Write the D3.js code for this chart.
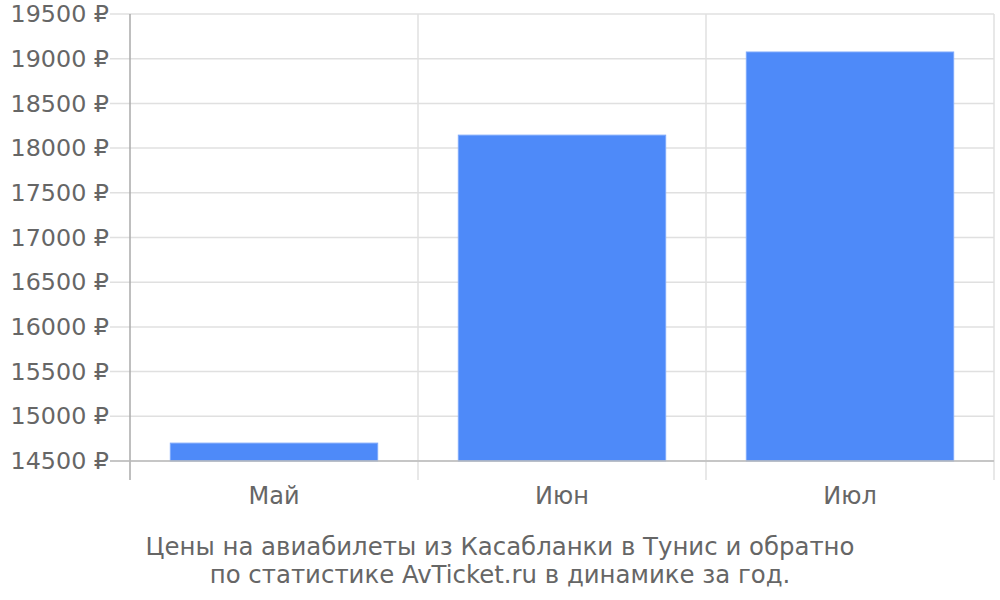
<!DOCTYPE html>
<html>
<head>
<meta charset="utf-8">
<script src="https://cdn.jsdelivr.net/npm/d3@7"></script>
<style>
  body { margin: 0; background: #fff; }
  text { font-family: "DejaVu Sans", sans-serif; fill: #666; }
</style>
</head>
<body>
<div id="chart-area"></div>
<script>
// chart data
const months = ["Май", "Июн", "Июл"];
const prices = [14700, 18145, 19075];
const yTicks = [14500, 15000, 15500, 16000, 16500, 17000, 17500, 18000, 18500, 19000, 19500];
const caption = ["Цены на авиабилеты из Касабланки в Тунис и обратно", "по статистике AvTicket.ru в динамике за год."];

const MARGIN = { LEFT: 130, RIGHT: 6, TOP: 14, BOTTOM: 139 };
const WIDTH = 1000 - MARGIN.LEFT - MARGIN.RIGHT;
const HEIGHT = 600 - MARGIN.TOP - MARGIN.BOTTOM;

const svg = d3.select("#chart-area").append("svg")
  .attr("width", 1000)
  .attr("height", 600)

const g = svg.append("g")
  .attr("transform", `translate(${MARGIN.LEFT}, ${MARGIN.TOP})`)

const x = d3.scaleBand()
  .domain(months)
  .range([0, WIDTH])
  .paddingInner(0.28)
  .paddingOuter(0.14)

const y = d3.scaleLinear()
  .domain([14500, 19500])
  .range([HEIGHT, 0])

// horizontal grid + tick stubs
g.append("g")
  .selectAll("line")
  .data(yTicks)
  .enter().append("line")
    .attr("x1", -20)
    .attr("x2", WIDTH)
    .attr("y1", d => y(d))
    .attr("y2", d => y(d))
    .attr("stroke", "#e0e0e0")
    .attr("stroke-width", 1.5)

// vertical grid lines at band edges
const edges = months.map(m => x(m) - x.step() * x.paddingOuter()).concat([WIDTH]);
g.append("g")
  .selectAll("line")
  .data(edges)
  .enter().append("line")
    .attr("x1", d => d)
    .attr("x2", d => d)
    .attr("y1", 0)
    .attr("y2", HEIGHT + 19)
    .attr("stroke", (d, i) => i === 0 ? "#aaa" : "#e0e0e0")
    .attr("stroke-width", 1.5)

// bars
g.selectAll("rect").data(prices)
  .enter().append("rect")
    .attr("x", (d, i) => x(months[i]))
    .attr("y", d => y(d))
    .attr("width", x.bandwidth())
    .attr("height", d => HEIGHT - y(d))
    .attr("fill", "#4e8af9")
    .attr("stroke", "#7ea9fb")
    .attr("stroke-width", 1)

// baseline
g.append("line")
  .attr("x1", -20)
  .attr("x2", WIDTH)
  .attr("y1", HEIGHT)
  .attr("y2", HEIGHT)
  .attr("stroke", "#bbb")
  .attr("stroke-width", 1.5)

const leftAxis = d3.axisLeft(y)
  .tickValues(yTicks)
  .tickSize(0)
  .tickPadding(21)
  .tickFormat(d => d + " ₽")
g.append("g")
  .attr("class", "left axis")
  .call(leftAxis)
  .call(a => a.select(".domain").remove())
  .selectAll("text")
    .style("font-size", "23.8px")
    .attr("fill", "#666")

const bottomAxis = d3.axisBottom(x)
  .tickSize(0)
  .tickPadding(26)
g.append("g")
  .attr("transform", `translate(0, ${HEIGHT})`)
  .call(bottomAxis)
  .call(a => a.select(".domain").remove())
  .selectAll("text")
    .style("font-size", "24px")
    .attr("fill", "#666")

svg.append("g")
  .selectAll("text")
  .data(caption)
  .enter().append("text")
    .attr("x", 500)
    .attr("y", (d, i) => 555 + i * 28)
    .attr("text-anchor", "middle")
    .style("font-size", "24.4px")
    .text(d => d)
</script>
</body>
</html>
